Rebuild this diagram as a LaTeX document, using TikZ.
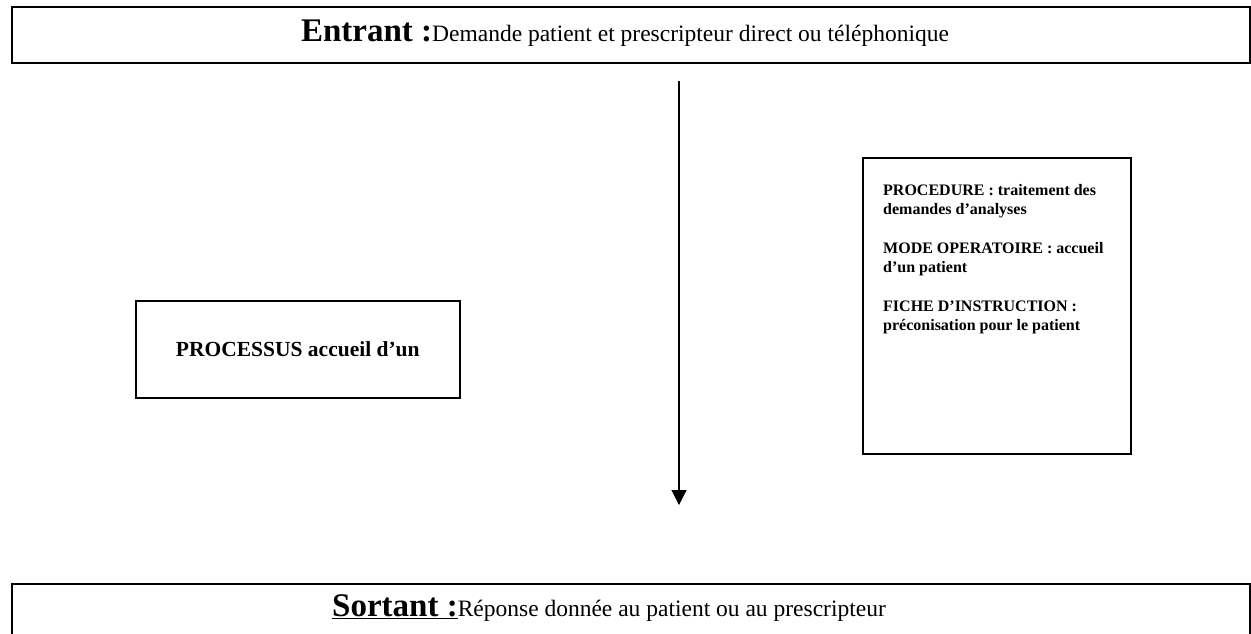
\documentclass[tikz,border=0pt]{standalone}
\usepackage{fontspec}
\setmainfont{Liberation Serif}
\usetikzlibrary{arrows.meta, positioning}

\begin{document}
\begin{tikzpicture}[x=1pt, y=-1pt,
    framebox/.style={draw, line width=1.6pt, inner sep=0pt, anchor=north west},
    flow/.style={-{Triangle[length=15pt, width=15pt]}, line width=1.2pt}]
    \useasboundingbox (0,0) rectangle (1251,634);

    % Entrant
    \node[framebox, minimum width=1238pt, minimum height=56pt] (entrantbox) at (11,6) {};
    \node[anchor=base] (entrant) at (625,42)
        {\fontsize{33}{33}\selectfont\bfseries Entrant :\fontsize{23.5}{23.5}\selectfont\mdseries Demande patient et prescripteur direct ou téléphonique};

    % Processus
    \node[framebox, minimum width=324pt, minimum height=97pt,
        font=\fontsize{21.5}{21.5}\selectfont\bfseries] (processus) at (135,300) {PROCESSUS accueil d’un};

    % Documents
    \node[framebox, minimum width=268pt, minimum height=296pt] (docsbox) at (862,157) {};
    \node[anchor=north west, inner sep=0pt, align=left,
        font=\fontsize{16}{19}\selectfont\bfseries] (docs) at (883,184)
        {PROCEDURE : traitement des\\demandes d’analyses\\[20pt]
         MODE OPERATOIRE : accueil\\d’un patient\\[20pt]
         FICHE D’INSTRUCTION :\\préconisation pour le patient};

    % Fleche
    \coordinate (flowtop) at (679,81);
    \coordinate (flowend) at (679,505);
    \draw[flow] (flowtop) -- (flowend);

    % Sortant
    \node[framebox, minimum width=1238pt, minimum height=70pt] (sortantbox) at (11,583) {};
    \node[anchor=base] (sortant) at (609,616)
        {\fontsize{33}{33}\selectfont\bfseries\underline{Sortant :}\fontsize{23.5}{23.5}\selectfont\mdseries Réponse donnée au patient ou au prescripteur};
\end{tikzpicture}
\end{document}
